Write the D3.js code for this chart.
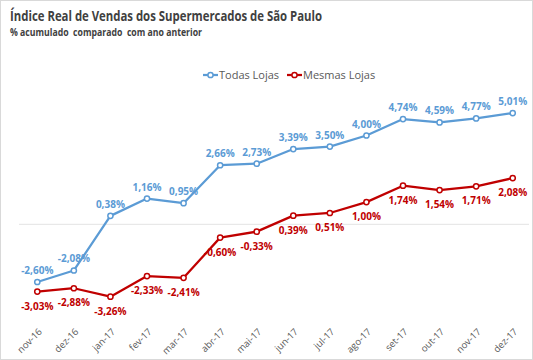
<!DOCTYPE html>
<html><head><meta charset="utf-8">
<script src="https://cdn.jsdelivr.net/npm/d3@7"></script>
<style>body{margin:0;background:#fff}svg{display:block}text{white-space:pre}</style>
</head><body>
<script>
const categories = ["nov-16","dez-16","jan-17","fev-17","mar-17","abr-17","mai-17","jun-17","jul-17","ago-17","set-17","out-17","nov-17","dez-17"];
const todasLojas = [-2.60,-2.08,0.38,1.16,0.95,2.66,2.73,3.39,3.50,4.00,4.74,4.59,4.77,5.01];
const mesmasLojas = [-3.03,-2.88,-3.26,-2.33,-2.41,-0.60,-0.33,0.39,0.51,1.00,1.74,1.54,1.71,2.08];
const seriesNames = ["Todas Lojas","Mesmas Lojas"];
const title = "Índice Real de Vendas dos Supermercados de São Paulo";
const subtitle = "% acumulado  comparado  com ano anterior";

const W=533,H=360;
const blue="#5B9BD5", red="#C00000", gray="#595959";
const font="'Open Sans', 'Noto Sans', sans-serif";
const svg=d3.select("body").append("svg").attr("width",W).attr("height",H);
svg.append("rect").attr("x",0.5).attr("y",0.5).attr("width",W-1).attr("height",H-1).attr("fill","#fff").attr("stroke","#d9d9d9");

svg.append("text").attr("x",10).attr("y",21).text(title)
  .attr("font-family",font).attr("font-weight","bold").attr("font-size",13.5).attr("fill","#404040")
  .attr("textLength",312).attr("lengthAdjust","spacingAndGlyphs");
svg.append("text").attr("x",10).attr("y",36).text(subtitle)
  .attr("font-family",font).attr("font-weight","bold").attr("font-size",10).attr("fill","#404040")
  .attr("textLength",192).attr("lengthAdjust","spacingAndGlyphs");

const x=d3.scaleBand().domain(categories).range([19,531]).padding(0);
const cx=c=>x(c)+x.bandwidth()/2;
const y=d3.scaleLinear().domain([-5,6]).range([335.3,91.1]);

svg.append("line").attr("x1",19).attr("x2",529).attr("y1",y(0)).attr("y2",y(0)).attr("stroke","#e3e3e3").attr("stroke-width",1);

// x axis labels
const xAxis=d3.axisBottom(x).tickSize(0).tickPadding(0);
const gx=svg.append("g").attr("transform","translate(0,326)").call(xAxis);
gx.select(".domain").remove();
gx.selectAll("text").attr("font-family",font).attr("font-size",9.5).attr("fill",gray)
  .attr("text-anchor","end").attr("dy","0.35em").attr("transform","translate(3,4) rotate(-45)");

const line=d3.line().x((d,i)=>cx(categories[i])).y(d=>y(d));
function drawSeries(vals,color,labelPos){
  svg.append("path").datum(vals).attr("d",line).attr("fill","none").attr("stroke",color).attr("stroke-width",2.25).attr("stroke-linejoin","round");
  svg.selectAll(null).data(vals).enter().append("circle")
    .attr("cx",(d,i)=>cx(categories[i])).attr("cy",d=>y(d)).attr("r",2.6)
    .attr("fill","#fff").attr("stroke",color).attr("stroke-width",1.5);
  svg.selectAll(null).data(vals).enter().append("text")
    .attr("x",(d,i)=>cx(categories[i])).attr("y",d=>y(d)+(labelPos==="above"?-8:18))
    .attr("text-anchor","middle").attr("font-family",font).attr("font-weight","bold").attr("font-size",10)
    .attr("fill",color).text(d=>d.toFixed(2).replace(".",",")+"%");
}
drawSeries(todasLojas,blue,"above");
drawSeries(mesmasLojas,red,"below");

// legend
const leg=[{name:seriesNames[0],color:blue,x:203},{name:seriesNames[1],color:red,x:287}];
leg.forEach(l=>{
  svg.append("line").attr("x1",l.x).attr("x2",l.x+15).attr("y1",75).attr("y2",75).attr("stroke",l.color).attr("stroke-width",2.25);
  svg.append("circle").attr("cx",l.x+7.5).attr("cy",75).attr("r",2.6).attr("fill","#fff").attr("stroke",l.color).attr("stroke-width",1.5);
  svg.append("text").attr("x",l.x+16).attr("y",79).text(l.name).attr("font-family",font).attr("font-size",11).attr("fill",gray);
});
</script>
</body></html>
